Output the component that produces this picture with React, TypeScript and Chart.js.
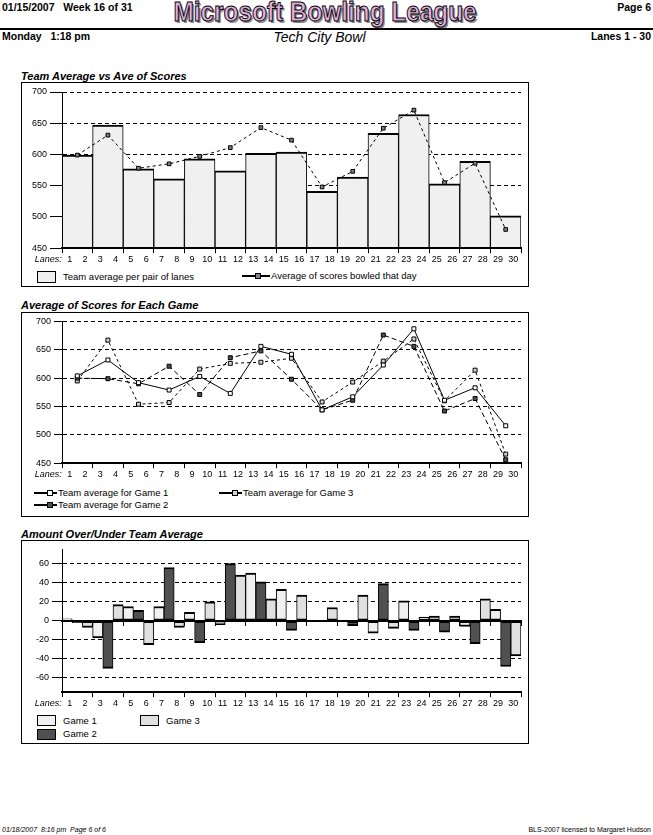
import React, { useEffect, useRef } from 'react';
import { Chart, registerables } from 'chart.js';

Chart.register(...registerables);

const FONT = '"Liberation Sans", Arial, Helvetica, sans-serif';
Chart.defaults.font.family = FONT;
Chart.defaults.font.size = 9;
Chart.defaults.color = '#000';

// ---------------- data ----------------
const laneLabels = ['1', '2', '3', '4', '5', '6', '7', '8', '9', '10', '11', '12', '13', '14', '15',
  '16', '17', '18', '19', '20', '21', '22', '23', '24', '25', '26', '27', '28', '29', '30'];
const lanePairs = ['1-2', '3-4', '5-6', '7-8', '9-10', '11-12', '13-14', '15-16', '17-18', '19-20',
  '21-22', '23-24', '25-26', '27-28', '29-30'];
const lanesWord = 'Lanes:';

const teamAverage = [599, 647, 577, 561, 593, 574, 602, 604, 541, 564, 634, 664, 553, 589, 502];
const dayAverage = [599, 631, 578, 585, 597, 611, 643, 623, 548, 573, 642, 671, 555, 586, 480];

const game1Average = [604, 632, 592, 579, 603, 573, 656, 642, 544, 567, 623, 687, 561, 583, 516];
const game2Average = [600, 599, 590, 621, 571, 636, 648, 598, 544, 561, 676, 656, 542, 564, 456];
const game3Average = [595, 667, 554, 557, 616, 626, 628, 635, 558, 593, 630, 669, 560, 614, 466];

const game1OverUnder = [2, -18, 15, 15, 9, -4, 50, 33, 0, 0, -13, 21, 5, -6, 12];
const game2OverUnder = [-2, -50, 11, 56, -23, 60, 41, -10, 0, -5, 39, -10, -12, -24, -48];
const game3OverUnder = [-7, 17, -25, -7, 20, 48, 23, 27, 14, 27, -8, 4, 5, 23, -37];

const scoreTicks = [450, 500, 550, 600, 650, 700];
const overUnderTicks = [-60, -40, -20, 0, 20, 40, 60];

const teamAverageLabel = 'Team average per pair of lanes';
const dayAverageLabel = 'Average of scores bowled that day';
const gameAverageLabels = ['Team average for Game 1', 'Team average for Game 2', 'Team average for Game 3'];
const overUnderLabels = ['Game 1', 'Game 2', 'Game 3'];

// ---------------- styles ----------------
const BAR_FILLS = ['#f0f0f0', '#505050', '#e0e0e0'];
const MARKER_FILLS = ['#ffffff', '#505050', '#d4d4d4'];
const TEAM_FILL = '#f0f0f0';
const DAY_MARKER = '#808080';

// lane axis: lane n occupies [n-1, n]; a pair "a-b" is centred on lane boundary a
const LANE_MAX = laneLabels.length;
const atPairs = (values: number[]) =>
  values.map((y, i) => ({ x: Number(lanePairs[i].split('-')[0]), y }));
const boundaryValues = lanePairs.map((p) => Number(p.split('-')[0]) - 1).concat([LANE_MAX]);
const labelValues = [0].concat(laneLabels.map((l) => Number(l) - 0.5));

const setTicks = (values: number[]) => (scale: any) => {
  scale.ticks = values.map((value) => ({ value }));
};

function laneAxes(): any {
  return {
    x: {
      axis: 'x',
      type: 'linear',
      min: 0,
      max: LANE_MAX,
      offset: false,
      position: 'bottom',
      afterBuildTicks: setTicks(boundaryValues),
      ticks: { display: false },
      grid: { offset: false, drawOnChartArea: false, drawTicks: true, tickLength: 5, tickColor: '#000', tickWidth: 1 },
      border: { display: true, color: '#000', width: 2, z: 1 },
    },
    xl: {
      axis: 'x',
      type: 'linear',
      min: 0,
      max: LANE_MAX,
      offset: false,
      position: 'bottom',
      display: true,
      afterBuildTicks: setTicks(labelValues),
      ticks: {
        autoSkip: false,
        maxRotation: 0,
        minRotation: 0,
        padding: 1,
        color: '#000',
        font: (ctx: any) => ({
          family: FONT,
          size: 9,
          style: ctx.tick && ctx.tick.value === 0 ? 'italic' : 'normal',
        }),
        callback: (value: any) =>
          value === 0 ? lanesWord + ' '.repeat(11) : laneLabels[Math.round(Number(value) + 0.5) - 1],
      },
      grid: { offset: false, display: false, drawTicks: false },
      border: { display: false },
    },
  };
}

function valueAxis(min: number, max: number, ticks: number[], tickLength: number): any {
  return {
    axis: 'y',
    type: 'linear',
    position: 'left',
    min,
    max,
    afterBuildTicks: setTicks(ticks),
    afterFit: (s: any) => {
      s.width = 40;
    },
    ticks: { padding: 3, color: '#000', font: { family: FONT, size: 9 } },
    grid: { color: '#000', lineWidth: 1, drawTicks: true, tickLength, tickColor: '#000', tickWidth: 1 },
    border: { display: true, color: '#000', width: 1, dash: [4, 3], z: 1 },
  };
}

const baseOptions = (padTop: number): any => ({
  responsive: false,
  animation: false,
  events: [],
  layout: { padding: { top: padTop, right: 7, left: 0, bottom: 0 } },
  plugins: { legend: { display: false }, tooltip: { enabled: false } },
});

// ---------------- chart configs ----------------
function chart1Config(): any {
  return {
    type: 'bar',
    data: {
      datasets: [
        {
          type: 'line',
          label: dayAverageLabel,
          data: atPairs(dayAverage),
          order: 1,
          borderColor: '#000',
          borderWidth: 1,
          borderDash: [3, 3],
          pointStyle: 'rect',
          pointRadius: 2.6,
          pointBackgroundColor: DAY_MARKER,
          pointBorderColor: '#000',
          pointBorderWidth: 1,
          tension: 0,
          xAxisID: 'x',
          yAxisID: 'y',
        },
        {
          type: 'bar',
          label: teamAverageLabel,
          data: atPairs(teamAverage),
          order: 2,
          backgroundColor: TEAM_FILL,
          borderColor: '#000',
          borderWidth: { top: 2, left: 1, right: 1, bottom: 0 },
          categoryPercentage: 1,
          barPercentage: 1,
          xAxisID: 'x',
          yAxisID: 'y',
        },
      ],
    },
    options: {
      ...baseOptions(9),
      scales: { ...laneAxes(), y: valueAxis(450, 700, scoreTicks, 12) },
    },
  };
}

function chart2Config(): any {
  const series = [game1Average, game2Average, game3Average];
  const dashes = [[], [5, 3], [3, 3]];
  return {
    type: 'line',
    data: {
      datasets: series.map((values, i) => ({
        label: gameAverageLabels[i],
        data: atPairs(values),
        borderColor: '#000',
        borderWidth: 1,
        borderDash: dashes[i],
        pointStyle: 'rect',
        pointRadius: 2.8,
        pointBackgroundColor: MARKER_FILLS[i],
        pointBorderColor: '#000',
        pointBorderWidth: 1,
        tension: 0,
        xAxisID: 'x',
        yAxisID: 'y',
      })),
    },
    options: {
      ...baseOptions(7),
      scales: { ...laneAxes(), y: valueAxis(450, 700, scoreTicks, 8) },
    },
  };
}

function chart3Config(): any {
  const series = [game1OverUnder, game2OverUnder, game3OverUnder];
  return {
    type: 'bar',
    data: {
      datasets: series.map((values, i) => ({
        label: overUnderLabels[i],
        data: atPairs(values),
        backgroundColor: BAR_FILLS[i],
        borderColor: '#000',
        borderWidth: { top: 2, bottom: 2, left: 1, right: 1 },
        borderSkipped: false,
        categoryPercentage: 1,
        barPercentage: 1,
        xAxisID: 'x',
        yAxisID: 'y',
      })),
    },
    options: {
      ...baseOptions(8),
      scales: {
        ...laneAxes(),
        y: valueAxis(-75, 75, overUnderTicks, 10),
        xz: {
          axis: 'x',
          type: 'linear',
          min: 0,
          max: LANE_MAX,
          offset: false,
          position: { y: 0 },
          afterBuildTicks: setTicks(boundaryValues),
          ticks: { display: false },
          grid: { offset: false, drawOnChartArea: false, drawTicks: true, tickLength: 4, tickColor: '#000', tickWidth: 1 },
          border: { display: true, color: '#000', width: 2, z: 1 },
        },
      },
    },
  };
}

// ---------------- components ----------------
function ChartCanvas({ make, left, top, width, height }: any) {
  const ref = useRef<HTMLCanvasElement>(null);
  useEffect(() => {
    const chart = new Chart(ref.current as HTMLCanvasElement, make());
    return () => chart.destroy();
  }, []);
  return (
    <canvas
      ref={ref}
      width={width}
      height={height}
      style={{ position: 'absolute', left, top, width, height, display: 'block' }}
    />
  );
}

function T({ x, base, size, bold, italic, align = 'left', children }: any) {
  const style: any = {
    position: 'absolute',
    top: base - 0.8465 * size,
    fontSize: size,
    lineHeight: `${size}px`,
    fontWeight: bold ? 700 : 400,
    fontStyle: italic ? 'italic' : 'normal',
    whiteSpace: 'pre',
  };
  if (align === 'left') style.left = x;
  else if (align === 'right') style.right = 653 - x;
  else {
    style.left = x - 200;
    style.width = 400;
    style.textAlign = 'center';
  }
  return <div style={style}>{children}</div>;
}

function LegendItem({ kind, fill, text, left, cy, boxH = 11, lineW = 23, markerAt = 13, gap = 7 }: any) {
  const h = 14;
  return (
    <div
      style={{
        position: 'absolute',
        left,
        top: cy - h / 2,
        height: h,
        display: 'flex',
        alignItems: 'center',
        whiteSpace: 'nowrap',
        fontSize: 9.5,
        lineHeight: `${h}px`,
      }}
    >
      {kind === 'box' ? (
        <span
          style={{
            width: 19,
            height: boxH,
            border: '1px solid #000',
            boxSizing: 'border-box',
            background: fill,
            marginRight: gap,
            flex: 'none',
          }}
        />
      ) : (
        <span style={{ position: 'relative', width: lineW, height: 6, marginRight: 1, flex: 'none' }}>
          <span style={{ position: 'absolute', left: 0, width: lineW, top: 2, height: 2, background: '#000' }} />
          <span
            style={{
              position: 'absolute',
              left: markerAt,
              top: 0,
              width: 6,
              height: 6,
              border: '1px solid #000',
              boxSizing: 'border-box',
              background: fill,
            }}
          />
        </span>
      )}
      <span>{text}</span>
    </div>
  );
}

function Box({ top, height }: any) {
  return (
    <div
      style={{
        position: 'absolute',
        left: 21,
        top,
        width: 508,
        height,
        border: '1px solid #000',
        boxSizing: 'border-box',
      }}
    />
  );
}

export default function App() {
  return (
    <div
      style={{
        position: 'absolute',
        left: 0,
        top: 0,
        width: 653,
        height: 835,
        background: '#fff',
        color: '#000',
        fontFamily: FONT,
        overflow: 'hidden',
      }}
    >
      {/* header */}
      <T x={2} base={10.8} size={10.5} bold>{'01/15/2007   Week 16 of 31'}</T>
      <T x={651} base={10.8} size={10.5} bold align="right">Page 6</T>
      <div
        style={{
          position: 'absolute',
          left: 0,
          width: 650,
          top: -2,
          textAlign: 'center',
          fontSize: 28,
          lineHeight: '28px',
          fontWeight: 700,
          color: '#e4aee4',
          WebkitTextStroke: '1px #000',
          textShadow: '2px 2px 0 #8a8a8a',
          transform: 'scaleX(0.87)',
          transformOrigin: '325px 0',
          whiteSpace: 'pre',
        }}
      >
        Microsoft Bowling League
      </div>
      <div style={{ position: 'absolute', left: 0, top: 28, width: 653, height: 2, background: '#000' }} />
      <T x={2} base={39.5} size={10.5} bold>{'Monday   1:18 pm'}</T>
      <T x={319.5} base={41.7} size={14} italic align="center">Tech City Bowl</T>
      <T x={651} base={39.5} size={10.5} bold align="right">Lanes 1 - 30</T>

      {/* chart 1 */}
      <T x={21} base={80} size={11} bold italic>Team Average vs Ave of Scores</T>
      <Box top={82} height={205} />
      <ChartCanvas make={chart1Config} left={22} top={83} width={506} height={183} />
      <LegendItem kind="box" fill={TEAM_FILL} text={teamAverageLabel} left={37} cy={276.5} boxH={12} />
      <LegendItem kind="line" fill={DAY_MARKER} text={dayAverageLabel} left={242} cy={276} lineW={28} markerAt={13} />

      {/* chart 2 */}
      <T x={21} base={309.7} size={11} bold italic>Average of Scores for Each Game</T>
      <Box top={312} height={205} />
      <ChartCanvas make={chart2Config} left={22} top={313} width={506} height={168} />
      <LegendItem kind="line" fill={MARKER_FILLS[0]} text={gameAverageLabels[0]} left={34} cy={492.7} />
      <LegendItem kind="line" fill={MARKER_FILLS[2]} text={gameAverageLabels[2]} left={219} cy={492.7} />
      <LegendItem kind="line" fill={MARKER_FILLS[1]} text={gameAverageLabels[1]} left={34} cy={504.5} />

      {/* chart 3 */}
      <T x={21} base={538.3} size={11} bold italic>Amount Over/Under Team Average</T>
      <Box top={540} height={204} />
      <ChartCanvas make={chart3Config} left={22} top={541} width={506} height={169} />
      <LegendItem kind="box" fill={BAR_FILLS[0]} text={overUnderLabels[0]} left={37} cy={720.7} />
      <LegendItem kind="box" fill={BAR_FILLS[2]} text={overUnderLabels[2]} left={140} cy={720.7} />
      <LegendItem kind="box" fill={BAR_FILLS[1]} text={overUnderLabels[1]} left={37} cy={734} />

      {/* footer */}
      <T x={2} base={831.5} size={7} italic>{'01/18/2007  8:16 pm  Page 6 of 6'}</T>
      <T x={651} base={831.5} size={7} align="right">BLS-2007 licensed to Margaret Hudson</T>
    </div>
  );
}
